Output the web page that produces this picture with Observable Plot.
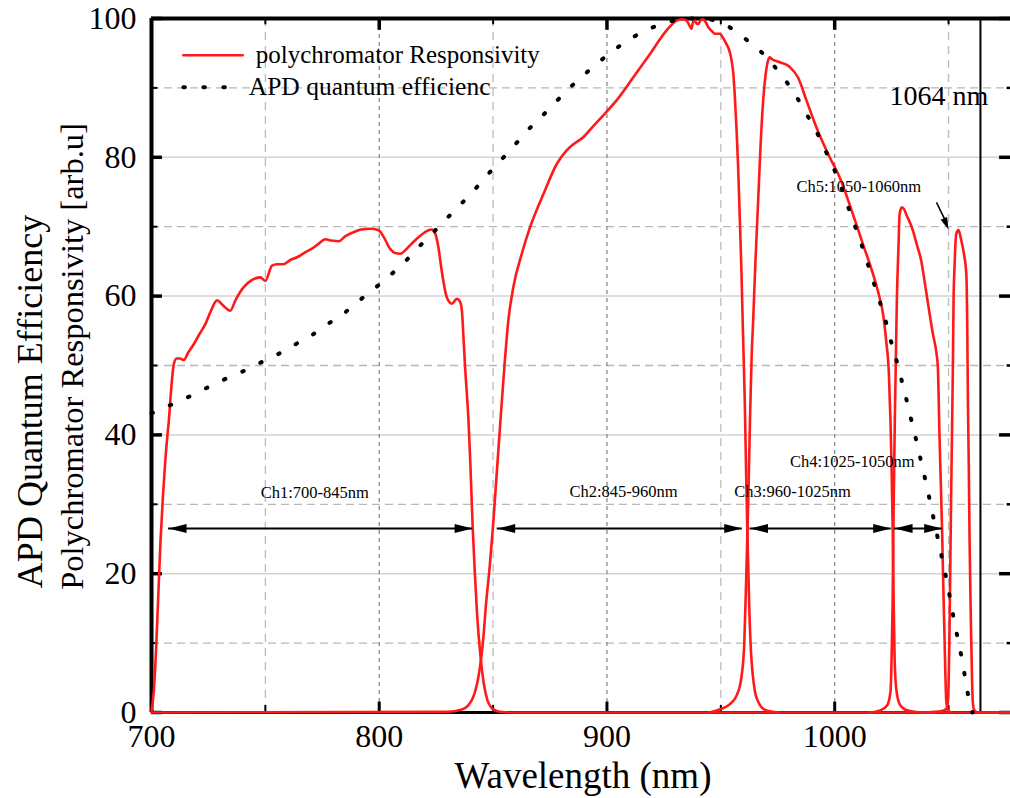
<!DOCTYPE html>
<html><head><meta charset="utf-8">
<script src="https://cdn.jsdelivr.net/npm/d3@7"></script>
<script src="https://cdn.jsdelivr.net/npm/@observablehq/plot@0.6"></script>
<style>html,body{margin:0;padding:0;background:#fff;} #chart svg{display:block;}</style>
</head><body><div id="chart"></div>
<script>
// ---------- data ----------
const xTicks = [700, 800, 900, 1000];
const xMinorTicks = [750, 850, 950, 1050];
const yTicks = [0, 20, 40, 60, 80, 100];
const yMinorTicks = [10, 30, 50, 70, 90];

const ch1 = [[700,0.3],[701,3],[702,9],[703,17],[704,25],[705,31],[706,36],[707,40],[707.6,42],[708.5,46],[709.8,50.2],[711,51],[712.5,51],[714.2,50.8],[716,51.8],[718.6,53.1],[721,54.5],[723.7,56],[726,57.8],[728.8,59.4],[731,58.8],[734.6,57.9],[737,59.5],[740.5,61.3],[744,62.3],[747.8,62.7],[750,62.2],[752.9,64.4],[755,64.6],[758,64.6],[761,65.2],[763.9,65.6],[767,66.2],[771.2,67],[774,67.7],[776.3,68.2],[779,68],[782.2,67.9],[785,68.6],[788.7,69.2],[792,69.6],[796,69.7],[799.7,69.5],[802,68.5],[804.8,66.8],[807,66.2],[809.2,66.1],[812,66.8],[815,67.8],[818,68.7],[821.6,69.5],[823,69.6],[824.6,69],[826,67],[827.5,63.5],[829.7,59.8],[831.9,58.9],[834.1,59.6],[835.5,59.2],[836.3,57.9],[837,54],[837.7,49.8],[839.2,42],[840,36],[841,27],[842,20],[843,14],[844.5,8],[846,4],[847.5,1.8],[849,0.8],[851,0.3],[853,0.1],[858,0],[1077,0]];
const ch2 = [[700,0],[830,0.1],[836,0.4],[839,1],[841,2],[842.5,3.5],[844,6],[845.5,10],[847,16],[848.5,21],[850,27],[851.5,34],[853,41],[855,50],[856.7,56.5],[858.9,61.3],[862.6,66.1],[866.2,69.9],[872.1,74.7],[877.9,79],[882.3,81],[885,81.8],[889.6,82.9],[894,84.5],[899.1,86.3],[904.2,88.2],[911.5,91.5],[918.9,94.9],[926.2,98.3],[930.6,99.7],[933,99.9],[935,99.7],[936.2,99],[937.1,98.5],[937.8,99.5],[938.6,99.7],[939.3,99.3],[940.1,99.2],[941,99.7],[942.2,99.9],[943.3,99.5],[944.4,98.8],[946,98.2],[947.4,97.8],[949.6,97.8],[951,97.2],[952.5,96.3],[953.8,95.3],[954.7,94],[955.5,92],[956.1,89.1],[956.9,84],[957.6,78.6],[958.3,71.5],[959,64.2],[959.7,55],[960.5,45],[961.2,33],[961.8,24],[962.5,15],[963.2,9],[964,5.5],[965,3],[966.5,1.5],[968,0.7],[971,0.2],[975,0]];
const ch3 = [[945,0],[950,0.5],[954,1.2],[957,2.5],[959,5],[960.3,10],[961.2,20],[962,30],[962.8,42],[963.5,51],[964.2,56.5],[965.2,65],[966.4,73.8],[967.5,82],[968.6,88.2],[969.7,92],[970.8,94],[971.5,94.4],[972.2,94.2],[975.9,93.7],[980.3,93],[983.9,91.5],[987.6,88.2],[992,84.3],[997.8,80],[1002.2,77.1],[1008,71.8],[1012.4,67.5],[1016.8,63.2],[1019.7,59.8],[1021.2,57.5],[1022.6,53.6],[1023.8,48.8],[1024.5,42],[1025,35],[1025.5,25.8],[1025.9,16],[1026.3,8],[1027,3.5],[1028.5,1.2],[1031,0.4],[1035,0.1],[1040,0]];
const ch4 = [[1015,0],[1020,0.3],[1023,1],[1024.5,3],[1025,8],[1025.4,15],[1025.9,30],[1026.4,42],[1026.8,49.8],[1027.3,59.4],[1028,67],[1028.5,71.8],[1029.5,72.8],[1030.5,72.5],[1031.4,71.8],[1034.3,69.5],[1036,67.5],[1038,65.1],[1040,61],[1041.7,57.4],[1043.1,54.6],[1044.6,52],[1045.3,49.8],[1046,40.1],[1046.6,33],[1047.2,25.7],[1047.7,18],[1048.2,11.3],[1048.6,5.5],[1049,1.7],[1049.6,0.4],[1051,0]];
const ch5 = [[1040,0],[1047,0.2],[1049.2,0.6],[1049.8,2],[1050.4,11.3],[1050.8,22],[1051.1,30.5],[1051.5,40],[1051.9,49.8],[1052.2,59.4],[1052.6,64],[1053.4,69],[1054.4,69.5],[1055.6,68],[1056.8,66],[1057.8,63.2],[1058.2,56],[1058.5,45],[1058.9,35],[1059.2,25.7],[1059.6,17],[1059.9,11.3],[1060.3,5],[1060.6,1.7],[1061.2,0.4],[1063,0],[1077,0]];
const apd = [[700,43.1],[707.6,44.2],[716.4,45.5],[724.4,46.8],[732,48],[739.8,49.1],[747.8,50.4],[755.4,51.6],[762.9,53],[770.5,54.4],[777.5,56],[784.4,57.5],[791.4,59.4],[798.3,61.2],[804.8,63],[811.4,65],[817.7,67.2],[823.5,69.1],[829.4,71.1],[835.7,73.2],[841.5,75.2],[847.6,77.5],[853.5,79.6],[859.3,81.7],[865.2,83.9],[871.4,85.9],[877.6,88],[883.6,90],[890,91.9],[896.7,93.8],[903.3,95.5],[910.9,97.2],[918.6,98.5],[926.9,99.5],[935,100],[942,100],[949,99.5],[952.5,99],[959.8,97.3],[966.4,95.6],[972.5,93.5],[978.1,91.2],[982.9,88.9],[987.3,86.4],[991.7,83.9],[995.6,81.2],[999.3,78.6],[1002.5,76],[1005.4,73.3],[1008.5,70.5],[1011.4,67.8],[1014.2,65],[1016.8,62.3],[1019.4,59.6],[1021.9,57],[1024.1,54.2],[1026.6,51.4],[1028.8,48.6],[1031,45.8],[1033,43],[1035.1,40.2],[1037,37.5],[1039,34.7],[1040.9,31.9],[1042.7,29.1],[1044.5,26.3],[1046.3,23.5],[1048.1,20.7],[1049.8,18],[1051.4,15.1],[1053,12.3],[1054.8,9.5],[1056.4,6.7],[1057.9,3.8],[1059.5,1],[1060.5,0]];

const channelLabels = ["Ch1:700-845nm", "Ch2:845-960nm", "Ch3:960-1025nm", "Ch4:1025-1050nm", "Ch5:1050-1060nm"];
const channelLabelX = [771.7, 907.3, 981.5, 1007.7, 1010.6];
const channelLabelY = [31.6, 31.8, 31.8, 36.1, 75.8];
const arrowStart = [707.5, 851.8, 962.8, 1026.3];
const arrowEnd = [841, 959.4, 1024.8, 1047.2];
const arrowLevel = 26.5;
const laserLine = 1064;
const laserLabel = "1064 nm";
const legendLabels = ["polychromator Responsivity", "APD quantum efficienc"];
const xTitle = "Wavelength (nm)";
const yTitle1 = "APD Quantum Efficiency";
const yTitle2 = "Polychromator Responsivity [arb.u]";

// ---------- build ----------
const RED = "#ff1a1a";
const rows = (arr, name) => arr.map(([x, y]) => ({x, y, name}));
const redRows = [...rows(ch1,"ch1"), ...rows(ch2,"ch2"), ...rows(ch3,"ch3"), ...rows(ch4,"ch4"), ...rows(ch5,"ch5")];
const apdRows = rows(apd, "apd");
const labelRows = channelLabels.map((t, i) => ({t, x: channelLabelX[i], y: channelLabelY[i]}));
const arrowRows = arrowStart.map((s, i) => ({s, e: arrowEnd[i]}));

const headRight = {draw(ctx) { ctx.moveTo(0, 0); ctx.lineTo(-18, -4.5); ctx.lineTo(-18, 4.5); ctx.closePath(); }};
const headLeft = {draw(ctx) { ctx.moveTo(0, 0); ctx.lineTo(18, -4.5); ctx.lineTo(18, 4.5); ctx.closePath(); }};
const headDown = {draw(ctx) { ctx.moveTo(0, 0); ctx.lineTo(-3.5, -12); ctx.lineTo(3.5, -12); ctx.closePath(); }};

const XMAX = 1077.2;
const fmt = d => String(d);

const chart = Plot.plot({
  width: 1010, height: 798,
  marginLeft: 151, marginRight: 0, marginTop: 18, marginBottom: 86,
  style: {fontFamily: "'Liberation Serif', 'Times New Roman', serif", color: "black", background: "white"},
  x: {domain: [700, XMAX]},
  y: {domain: [0, 100]},
  marks: [
    // grid
    Plot.ruleY(yTicks.filter(t => t > 0 && t < 100), {stroke: "#d2d2d2", strokeWidth: 1.5}),
    Plot.ruleY(yMinorTicks, {stroke: "#b8b8b8", strokeWidth: 1.3, strokeDasharray: "8,5"}),
    Plot.ruleX(xMinorTicks, {stroke: "#bcbcbc", strokeWidth: 1.3, strokeDasharray: "8,6"}),
    Plot.ruleX(xTicks.filter(t => t > 700), {stroke: "#8a8a8a", strokeWidth: 1.3, strokeDasharray: "4,4"}),
    // frame lines
    Plot.ruleX([700], {stroke: "black", strokeWidth: 4}),
    Plot.ruleY([0], {stroke: "black", strokeWidth: 3}),
    Plot.ruleY([100], {stroke: "black", strokeWidth: 4}),
    // ticks (inward)
    Plot.ruleX(xTicks, {y1: 0, y2: 1.5, stroke: "black", strokeWidth: 3}),
    Plot.ruleX(xMinorTicks, {y1: 0, y2: 1.0, stroke: "black", strokeWidth: 2}),
    Plot.ruleX(xTicks.filter(t => t > 700), {y1: 100, y2: 98.3, stroke: "black", strokeWidth: 3.5}),
    Plot.ruleX(xMinorTicks, {y1: 100, y2: 99.1, stroke: "black", strokeWidth: 2}),
    Plot.ruleY(yTicks, {x1: 700, x2: 704.8, stroke: "black", strokeWidth: 3.5}),
    Plot.ruleY(yMinorTicks, {x1: 700, x2: 702.8, stroke: "black", strokeWidth: 2}),
    Plot.ruleY(yTicks, {x1: XMAX - 4.8, x2: XMAX, stroke: "black", strokeWidth: 3.5}),
    Plot.ruleY(yMinorTicks, {x1: XMAX - 1.5, x2: XMAX, stroke: "black", strokeWidth: 2.5}),
    // 1064 line
    Plot.ruleX([laserLine], {y1: 0, y2: 100, stroke: "black", strokeWidth: 2}),
    // curves
    Plot.line(redRows, {x: "x", y: "y", z: "name", stroke: RED, strokeWidth: 2.6, curve: "monotone-x"}),
    Plot.line(apdRows, {x: "x", y: "y", stroke: "black", strokeWidth: 4, strokeDasharray: "1.5,18.5", strokeLinecap: "round", curve: "monotone-x"}),
    // channel arrows
    Plot.ruleY(arrowRows, {x1: "s", x2: "e", y: () => arrowLevel, stroke: "black", strokeWidth: 2}),
    Plot.dot(arrowRows, {x: "s", y: () => arrowLevel, symbol: headLeft, fill: "black", stroke: "none"}),
    Plot.dot(arrowRows, {x: "e", y: () => arrowLevel, symbol: headRight, fill: "black", stroke: "none"}),
    Plot.text(labelRows, {x: "x", y: "y", text: "t", fontSize: 16.5, fill: "black"}),
    // pointer to Ch5
    Plot.link([{x1: 1044.7, y1: 73.5, x2: 1049.3, y2: 70.4}], {x1: "x1", y1: "y1", x2: "x2", y2: "y2", stroke: "black", strokeWidth: 1.5}),
    Plot.dot([{x: 1050, y: 69.6}], {x: "x", y: "y", symbol: headDown, rotate: -23, fill: "black", stroke: "none"}),
    Plot.text([laserLabel], {x: 1045.8, y: 88.9, text: d => d, fontSize: 28, fill: "black"}),
    // legend
    Plot.line([[714, 94.7], [740, 94.7]], {stroke: RED, strokeWidth: 2.6}),
    Plot.line([[714, 90.1], [740, 90.1]], {stroke: "black", strokeWidth: 4, strokeDasharray: "1.5,18.5", strokeLinecap: "round"}),
    Plot.text([legendLabels[0]], {x: 745.8, y: 94.7, text: d => d, textAnchor: "start", fontSize: 25, fill: "black"}),
    Plot.text([legendLabels[1]], {x: 742.7, y: 90.1, text: d => d, textAnchor: "start", fontSize: 25.5, fill: "black"}),
    // axes labels
    Plot.axisX({ticks: xTicks, tickSize: 0, tickPadding: 12, fontSize: 32, tickFormat: fmt, label: null}),
    Plot.axisY({ticks: yTicks, tickSize: 0, tickPadding: 15, fontSize: 32, tickFormat: fmt, label: null}),
    Plot.text([xTitle], {frameAnchor: "bottom", dx: 2, dy: 64, text: d => d, textAnchor: "middle", lineAnchor: "middle", fontSize: 37, fill: "black"}),
    Plot.text([yTitle1], {frameAnchor: "left", rotate: -90, dx: -121, dy: 36, text: d => d, textAnchor: "middle", lineAnchor: "middle", fontSize: 36, fill: "black"}),
    Plot.text([yTitle2], {frameAnchor: "left", rotate: -90, dx: -79, dy: -9, text: d => d, textAnchor: "middle", lineAnchor: "middle", fontSize: 32.5, fill: "black"})
  ]
});
document.getElementById("chart").appendChild(chart);
</script>
</body></html>
